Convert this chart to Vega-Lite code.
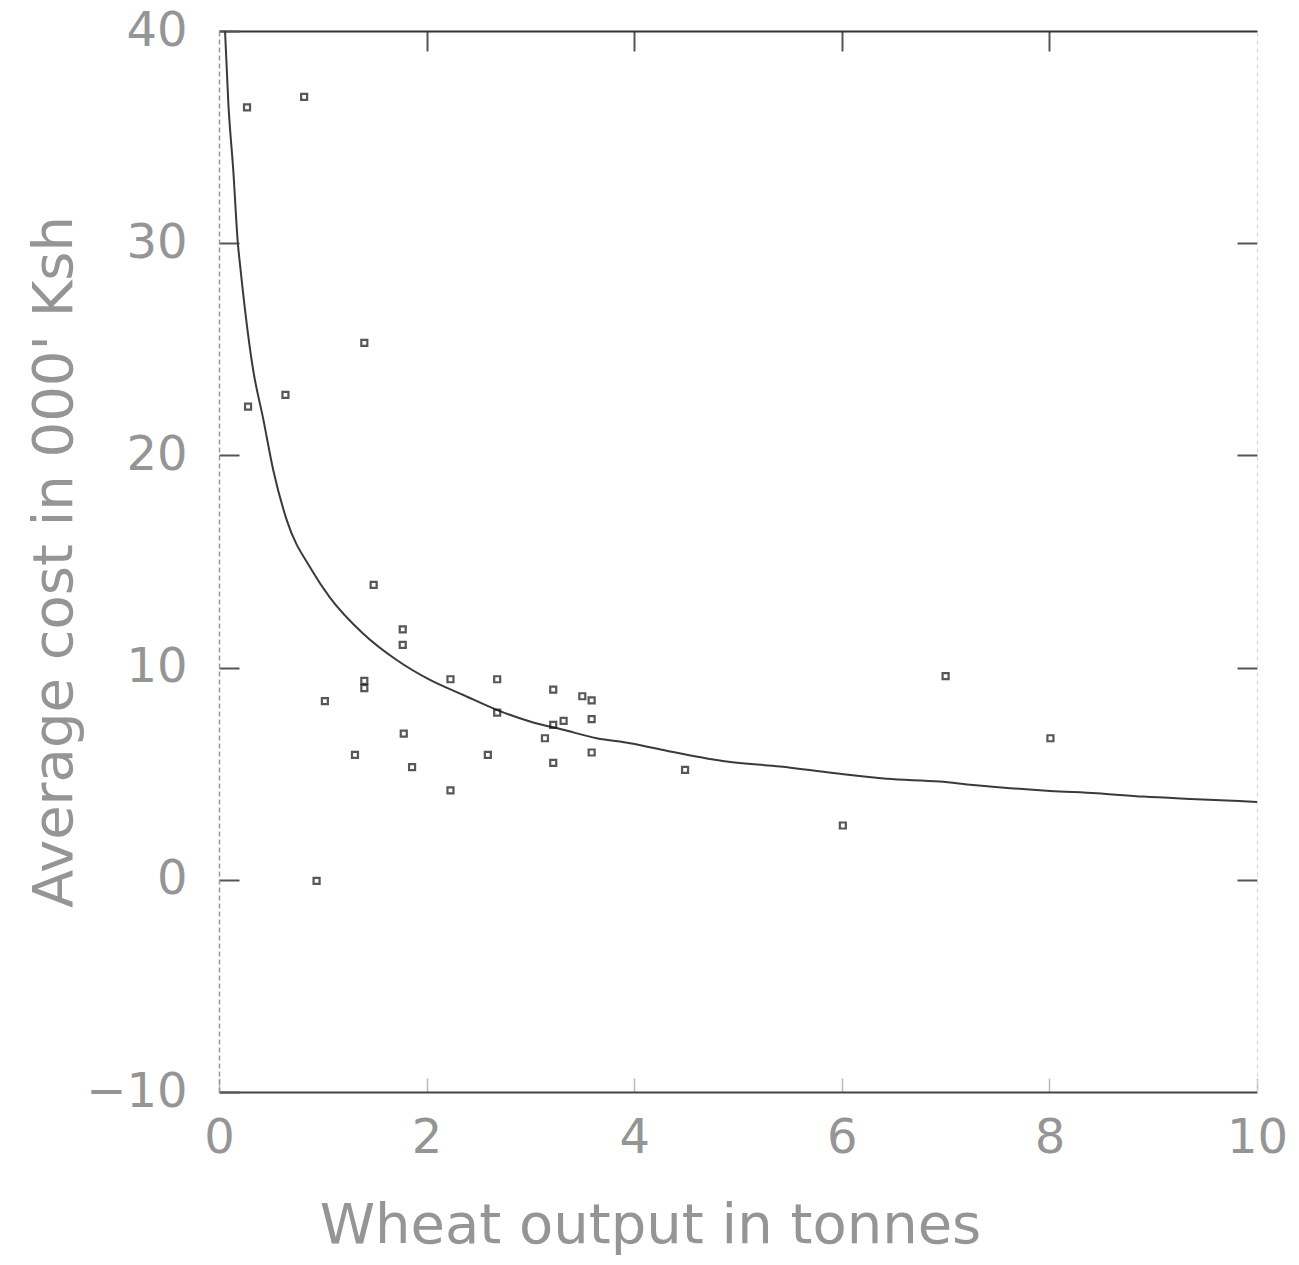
{
  "$schema": "https://vega.github.io/schema/vega-lite/v6.json",
  "width": 1038,
  "height": 1061,
  "autosize": {"type": "none"},
  "padding": {"left": 219, "top": 31, "right": 42, "bottom": 173},
  "background": "white",
  "config": {"view": {"stroke": null}, "axis": {"grid": false}},
  "datasets": {
    "curve": [
      {"x": 0.058, "y": 40.0}, {"x": 0.09, "y": 36.6}, {"x": 0.138, "y": 33.4}, {"x": 0.18, "y": 30.1},
      {"x": 0.209, "y": 28.7}, {"x": 0.33, "y": 24.0}, {"x": 0.427, "y": 21.7}, {"x": 0.523, "y": 19.3},
      {"x": 0.652, "y": 16.96}, {"x": 0.893, "y": 14.6}, {"x": 1.069, "y": 13.3}, {"x": 1.39, "y": 11.6},
      {"x": 1.712, "y": 10.36}, {"x": 2.033, "y": 9.42}, {"x": 2.354, "y": 8.71}, {"x": 2.675, "y": 8.01},
      {"x": 2.996, "y": 7.46}, {"x": 3.317, "y": 7.07}, {"x": 3.639, "y": 6.67}, {"x": 3.96, "y": 6.44},
      {"x": 4.377, "y": 6.02}, {"x": 4.891, "y": 5.57}, {"x": 5.405, "y": 5.34}, {"x": 5.918, "y": 5.03},
      {"x": 6.432, "y": 4.76}, {"x": 6.943, "y": 4.63}, {"x": 7.264, "y": 4.47}, {"x": 7.62, "y": 4.32},
      {"x": 8.006, "y": 4.19}, {"x": 8.455, "y": 4.08}, {"x": 8.905, "y": 3.92}, {"x": 9.419, "y": 3.8},
      {"x": 10.0, "y": 3.67}
    ],
    "farms": [
      {"output": 0.27, "cost": 36.4}, {"output": 0.82, "cost": 36.9}, {"output": 1.40, "cost": 25.3},
      {"output": 0.64, "cost": 22.85}, {"output": 0.28, "cost": 22.3}, {"output": 1.49, "cost": 13.9},
      {"output": 1.77, "cost": 11.8}, {"output": 1.77, "cost": 11.07}, {"output": 1.40, "cost": 9.37},
      {"output": 1.40, "cost": 9.03}, {"output": 1.02, "cost": 8.42}, {"output": 2.23, "cost": 9.45},
      {"output": 2.68, "cost": 9.45}, {"output": 3.22, "cost": 8.96}, {"output": 3.50, "cost": 8.65},
      {"output": 3.59, "cost": 8.46}, {"output": 2.68, "cost": 7.88}, {"output": 3.32, "cost": 7.49},
      {"output": 3.22, "cost": 7.3}, {"output": 3.59, "cost": 7.57}, {"output": 3.14, "cost": 6.67},
      {"output": 1.78, "cost": 6.89}, {"output": 1.31, "cost": 5.89}, {"output": 2.59, "cost": 5.89},
      {"output": 3.59, "cost": 6.0}, {"output": 1.86, "cost": 5.31}, {"output": 3.22, "cost": 5.51},
      {"output": 2.23, "cost": 4.21}, {"output": 4.49, "cost": 5.18}, {"output": 6.01, "cost": 2.56},
      {"output": 0.94, "cost": -0.05}, {"output": 7.0, "cost": 9.6}, {"output": 8.01, "cost": 6.67}
    ]
  },
  "layer": [
    {
      "data": {"name": "curve"},
      "mark": {"type": "line", "color": "#3a3a3a", "strokeWidth": 2, "interpolate": "monotone"},
      "encoding": {
        "x": {
          "field": "x", "type": "quantitative",
          "scale": {"domain": [0, 10], "nice": false, "zero": false},
          "axis": {
            "orient": "bottom", "values": [0, 2, 4, 6, 8, 10], "format": "d", "labelFlush": false,
            "domainColor": "#444", "domainWidth": 2,
            "tickSize": -14, "tickColor": "#bbb", "tickWidth": 1.5,
            "labelFont": "DejaVu Sans", "labelFontSize": 48, "labelColor": "#959595",
            "labelPadding": 36,
            "title": "Wheat output in tonnes", "titleFont": "DejaVu Sans", "titleFontSize": 56,
            "titleFontWeight": "normal", "titleColor": "#959595", "titlePadding": 36,
            "titleX": 431
          }
        },
        "y": {
          "field": "y", "type": "quantitative",
          "scale": {"domain": [-10, 40], "nice": false, "zero": false},
          "axis": {
            "orient": "left", "values": [-10, 0, 10, 20, 30, 40], "format": "d", "labelFlush": false,
            "domainColor": "#999", "domainWidth": 1.5, "domainDash": [5, 3],
            "tickSize": -20, "tickColor": "#555", "tickWidth": 2,
            "labelFont": "DejaVu Sans", "labelFontSize": 48, "labelColor": "#959595",
            "labelPadding": 52,
            "title": "Average cost in 000' Ksh", "titleFont": "DejaVu Sans", "titleFontSize": 56,
            "titleFontWeight": "normal", "titleColor": "#959595", "titlePadding": 2
          }
        }
      }
    },
    {
      "data": {"name": "farms"},
      "mark": {"type": "point", "shape": "square", "filled": false, "size": 36, "color": "#111", "strokeWidth": 2.2},
      "encoding": {
        "x": {
          "field": "output", "type": "quantitative",
          "axis": {
            "orient": "top", "values": [2, 4, 6, 8], "labels": false, "title": null,
            "domainColor": "#333", "domainWidth": 2,
            "tickSize": -20, "tickColor": "#555", "tickWidth": 2
          }
        },
        "y": {
          "field": "cost", "type": "quantitative",
          "axis": {
            "orient": "right", "values": [0, 10, 20, 30], "labels": false, "title": null,
            "domainColor": "#d5d5d5", "domainWidth": 1, "domainDash": [4, 4],
            "tickSize": -20, "tickColor": "#555", "tickWidth": 2
          }
        }
      }
    }
  ],
  "resolve": {"axis": {"x": "independent", "y": "independent"}}
}
